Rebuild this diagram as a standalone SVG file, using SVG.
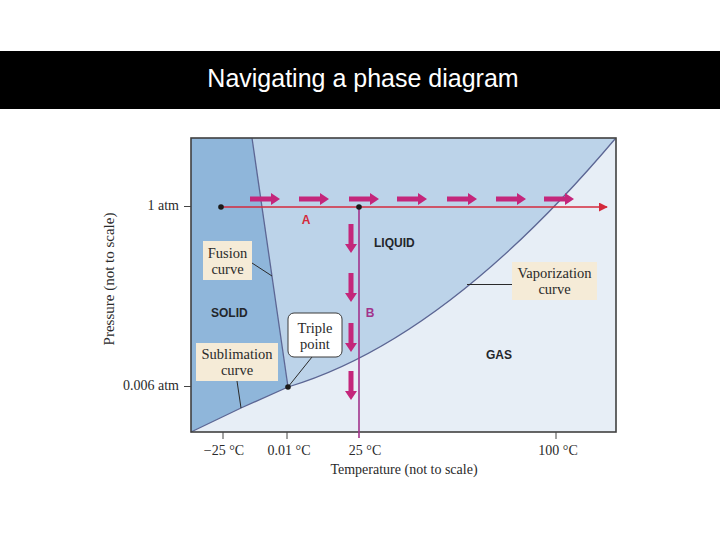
<svg xmlns="http://www.w3.org/2000/svg" width="720" height="540" viewBox="0 0 720 540">
<style>
.serif{font-family:"Liberation Serif","DejaVu Serif",serif;fill:#2a2a2a}
.lbl{font-size:14px}
.blbl{font-size:14.5px}
.region{font-family:"Liberation Sans","DejaVu Sans",sans-serif;font-weight:bold;font-size:12px;fill:#23262b}
.box{fill:#f5ebd7}
.curve{fill:none;stroke:#5c6694;stroke-width:1.3}
.lead{stroke:#2a2a2a;stroke-width:1;fill:none}
.tick{stroke:#444;stroke-width:1}
</style>
<defs>
<marker id="redHead" viewBox="0 0 10 10" refX="9" refY="5" markerWidth="9" markerHeight="9" markerUnits="userSpaceOnUse" orient="auto">
<path d="M0,0 L10,5 L0,10 z" fill="#d42a3c"/>
</marker>
<path id="harrow" d="M0,-2.5 H21 V-6 L30,0 L21,6 V2.5 H0 z" fill="#c4267b"/>
<path id="varrow" d="M-2.5,0 V20 H-6 L0,29 L6,20 H2.5 V0 z" fill="#c4267b"/>
</defs>
<rect width="720" height="540" fill="#ffffff"/>
<g id="title">
<rect x="0" y="51" width="720" height="58" fill="#000000"/>
<text x="363" y="87" text-anchor="middle" font-family="Liberation Sans, Arial, sans-serif" font-size="25" fill="#ffffff">Navigating a phase diagram</text>
</g>
<g id="gas">
<rect x="191" y="138" width="425" height="294" fill="#e7eef6"/>
</g>
<g id="liquid">
<path d="M252,138 L288,387 Q445,340 615,139 L615,138 z" fill="#bcd3e9"/>
</g>
<g id="solid">
<path d="M191,138 L252,138 L288,387 L241,408 L191,432 z" fill="#8fb6da"/>
</g>
<g id="curves">
<path class="curve" d="M252,138 L288,387"/>
<path class="curve" d="M191,432 L241,408 L288,387"/>
<path class="curve" d="M288,387 Q445,340 615,139"/>
</g>
<g id="frame">
<rect x="191" y="138" width="425" height="294" fill="none" stroke="#404040" stroke-width="1.6"/>
</g>
<g id="connectors">
<line x1="221" y1="207" x2="607" y2="207" stroke="#d42a3c" stroke-width="1.6" marker-end="url(#redHead)"/>
<line x1="359" y1="207" x2="359" y2="438" stroke="#a2338c" stroke-width="1.6"/>
<use href="#harrow" x="250" y="199"/>
<use href="#harrow" x="299" y="199"/>
<use href="#harrow" x="349" y="199"/>
<use href="#harrow" x="397" y="199"/>
<use href="#harrow" x="447" y="199"/>
<use href="#harrow" x="496" y="199"/>
<use href="#harrow" x="544" y="199"/>
<use href="#varrow" x="351" y="224"/>
<use href="#varrow" x="351" y="273"/>
<use href="#varrow" x="351" y="323"/>
<use href="#varrow" x="351" y="371"/>
<line class="lead" x1="252" y1="263" x2="272" y2="276"/>
<line class="lead" x1="467" y1="284.5" x2="512" y2="284.5"/>
<line class="lead" x1="237" y1="381" x2="241" y2="408"/>
<line class="lead" x1="312" y1="357" x2="288" y2="387"/>
</g>
<g id="pointA">
<circle cx="221" cy="207" r="2.8" fill="#1a1a1a"/>
<text x="306" y="224" font-family="Liberation Sans, sans-serif" font-weight="bold" font-size="12" fill="#d42a3c" text-anchor="middle">A</text>
</g>
<g id="pointB">
<circle cx="359" cy="207" r="2.8" fill="#1a1a1a"/>
<text x="370" y="317" font-family="Liberation Sans, sans-serif" font-weight="bold" font-size="12" fill="#a2338c" text-anchor="middle">B</text>
</g>
<g id="triple-point-dot">
<circle cx="288" cy="387" r="2.8" fill="#1a1a1a"/>
</g>
<g id="label-solid"><text class="region" x="211" y="317">SOLID</text></g>
<g id="label-liquid"><text class="region" x="374" y="247">LIQUID</text></g>
<g id="label-gas"><text class="region" x="486" y="359">GAS</text></g>
<g id="fusion-curve">
<rect class="box" x="203" y="241" width="49" height="39"/>
<text class="serif blbl" x="227.5" y="258" text-anchor="middle">Fusion</text>
<text class="serif blbl" x="227.5" y="274" text-anchor="middle">curve</text>
</g>
<g id="vaporization-curve">
<rect class="box" x="512" y="262" width="85" height="38"/>
<text class="serif blbl" x="554.5" y="278" text-anchor="middle">Vaporization</text>
<text class="serif blbl" x="554.5" y="294" text-anchor="middle">curve</text>
</g>
<g id="sublimation-curve">
<rect class="box" x="196" y="343" width="82" height="38"/>
<text class="serif blbl" x="237" y="359" text-anchor="middle">Sublimation</text>
<text class="serif blbl" x="237" y="375" text-anchor="middle">curve</text>
</g>
<g id="triple-point">
<rect x="288" y="313" width="54" height="44" rx="6" fill="#ffffff" stroke="#3a3a3a" stroke-width="1"/>
<text class="serif blbl" x="315" y="333" text-anchor="middle">Triple</text>
<text class="serif blbl" x="315" y="349" text-anchor="middle">point</text>
</g>
<g id="y-axis">
<line class="tick" x1="184" y1="206.5" x2="191" y2="206.5"/>
<line class="tick" x1="184" y1="386.5" x2="191" y2="386.5"/>
<text class="serif lbl" x="179" y="210" text-anchor="end">1 atm</text>
<text class="serif lbl" x="179" y="390" text-anchor="end">0.006 atm</text>
<text class="serif" font-size="15" transform="translate(114,279) rotate(-90)" text-anchor="middle">Pressure (not to scale)</text>
</g>
<g id="x-axis">
<line class="tick" x1="223" y1="432" x2="223" y2="439"/>
<line class="tick" x1="287" y1="432" x2="287" y2="439"/>
<line class="tick" x1="556" y1="432" x2="556" y2="439"/>
<text class="serif lbl" x="224" y="455" text-anchor="middle">−25 °C</text>
<text class="serif lbl" x="289" y="455" text-anchor="middle">0.01 °C</text>
<text class="serif lbl" x="365" y="455" text-anchor="middle">25 °C</text>
<text class="serif lbl" x="558" y="455" text-anchor="middle">100 °C</text>
<text class="serif lbl" x="404" y="474" text-anchor="middle">Temperature (not to scale)</text>
</g>
</svg>
